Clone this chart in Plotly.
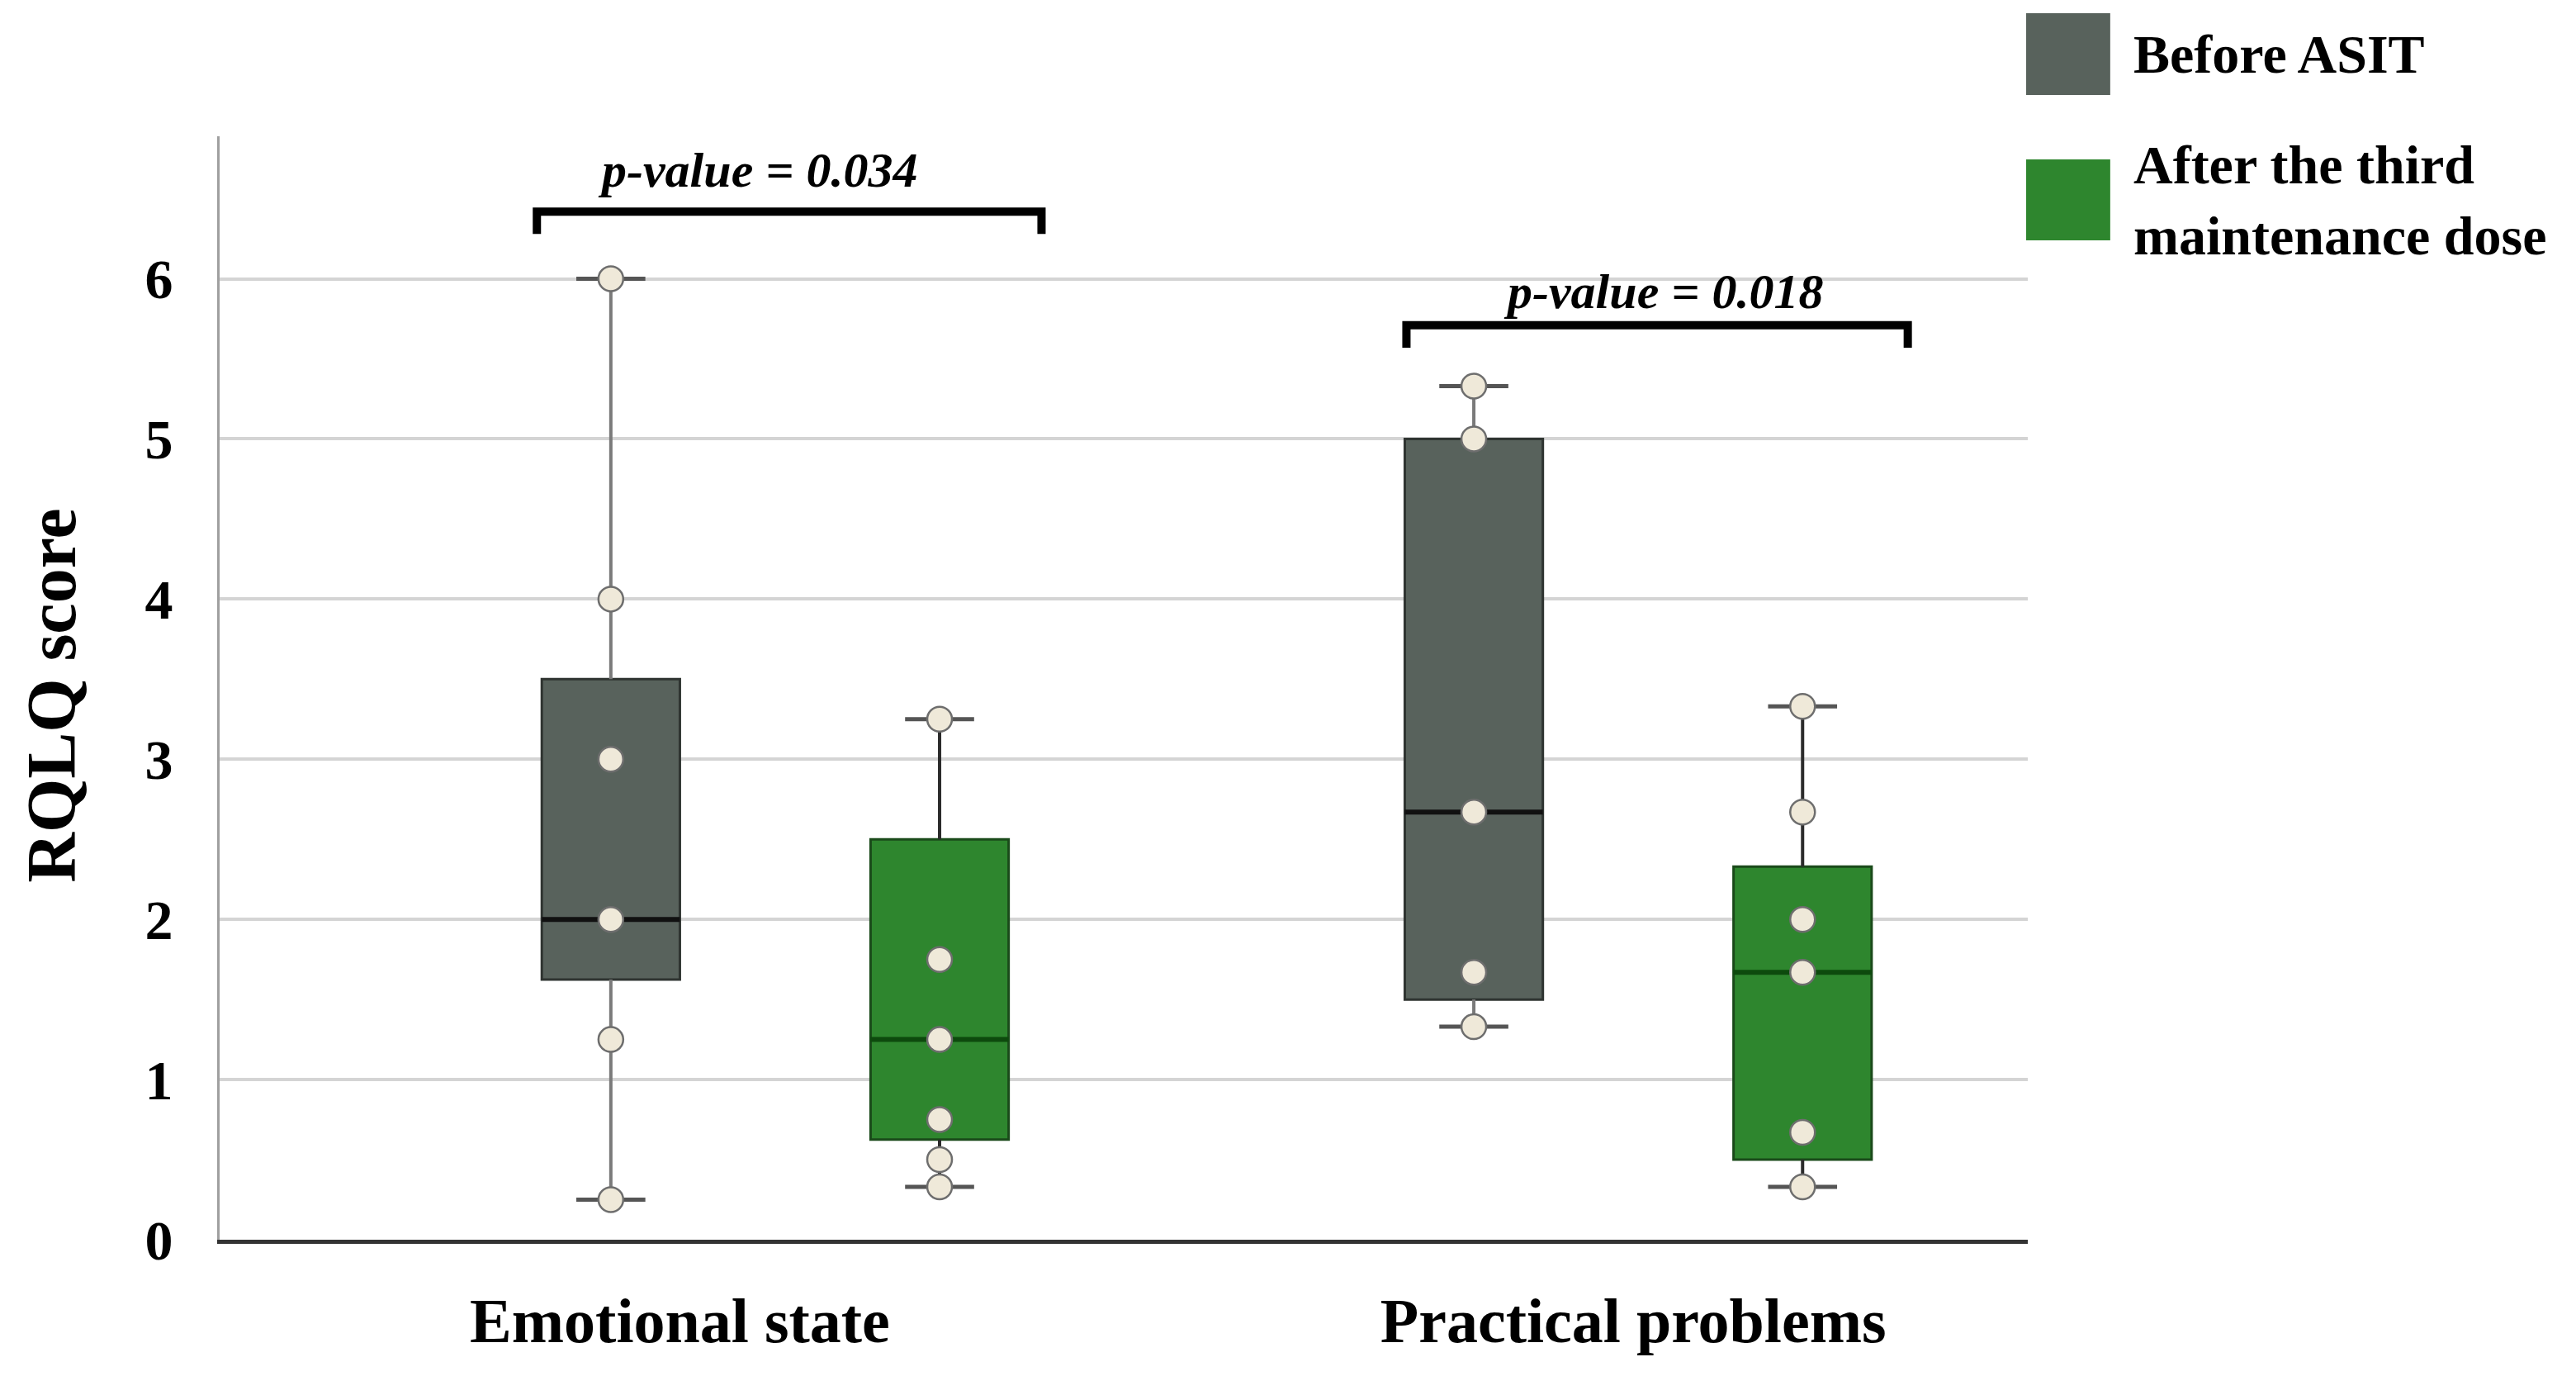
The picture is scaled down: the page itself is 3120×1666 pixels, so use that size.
import plotly.graph_objects as go

# data
categories = ["Emotional state", "Practical problems"]
group_names = ["Before ASIT", "After the third maintenance dose"]

before_q1 = [1.625, 1.5]
before_median = [2.0, 2.67]
before_q3 = [3.5, 5.0]
before_low = [0.25, 1.33]
before_high = [6.0, 5.33]

after_q1 = [0.625, 0.5]
after_median = [1.25, 1.67]
after_q3 = [2.5, 2.33]
after_low = [0.33, 0.33]
after_high = [3.25, 3.33]

before_points = [
    [6.0, 4.0, 3.0, 2.0, 1.25, 0.25],
    [5.33, 5.0, 2.67, 1.67, 1.33],
]
after_points = [
    [3.25, 1.75, 1.25, 0.75, 0.5, 0.33],
    [3.33, 2.67, 2.0, 1.67, 0.67, 0.33],
]

p_values = ["0.034", "0.018"]
y_ticks = [0, 1, 2, 3, 4, 5, 6]

# layout constants
FONT = "Liberation Serif, serif"
before_pos = [2.38, 7.63]
after_pos = [4.38, 9.63]
label_pos = [2.8, 8.6]
bracket_y = [6.42, 5.71]
bracket_x = [[1.93, 5.0], [7.22, 10.27]]
text_x = [3.27, 8.78]
text_y = [6.68, 5.92]
HALF = 0.42   # half box width
CAP = 0.21    # half whisker cap width

styles = {
    "before": dict(fill="#58625c", edge="#2f3431", median="#111111", whisker="#7a7a7a"),
    "after": dict(fill="#2e862e", edge="#1a4a1a", median="#0d4a0d", whisker="#2b2b2b"),
}

fig = go.Figure()


def add_group(pos, q1, med, q3, low, high, pts, st, name):
    # whiskers
    fig.add_trace(go.Scatter(x=[pos, pos, None, pos, pos], y=[low, q1, None, q3, high],
                             mode="lines", line=dict(color=st["whisker"], width=4),
                             showlegend=False, hoverinfo="skip"))
    fig.add_trace(go.Scatter(x=[pos - CAP, pos + CAP, None, pos - CAP, pos + CAP],
                             y=[low, low, None, high, high],
                             mode="lines", line=dict(color="#555555", width=5),
                             showlegend=False, hoverinfo="skip"))
    # box itself (whiskers hidden, drawn above)
    fig.add_trace(go.Box(x=[pos], q1=[q1], median=[med], q3=[q3],
                         lowerfence=[q1], upperfence=[q3],
                         width=2 * HALF, whiskerwidth=0, fillcolor=st["fill"],
                         line=dict(color=st["edge"], width=3), boxpoints=False,
                         showlegend=False, name=name))
    # thick median
    fig.add_trace(go.Scatter(x=[pos - HALF, pos + HALF], y=[med, med], mode="lines",
                             line=dict(color=st["median"], width=6),
                             showlegend=False, hoverinfo="skip"))
    fig.add_trace(go.Scatter(x=[pos] * len(pts), y=pts, mode="markers",
                             marker=dict(size=30, color="#efe9d9",
                                         line=dict(color="#6e6e6e", width=2.5)),
                             showlegend=False, hoverinfo="y"))


for i in range(len(categories)):
    add_group(before_pos[i], before_q1[i], before_median[i], before_q3[i],
              before_low[i], before_high[i], before_points[i], styles["before"], group_names[0])
    add_group(after_pos[i], after_q1[i], after_median[i], after_q3[i],
              after_low[i], after_high[i], after_points[i], styles["after"], group_names[1])

# significance brackets
for i in range(len(categories)):
    x0, x1 = bracket_x[i]
    y = bracket_y[i]
    fig.add_shape(type="path",
                  path=f"M {x0},{y - 0.14} L {x0},{y} L {x1},{y} L {x1},{y - 0.14}",
                  xref="x", yref="y", line=dict(color="black", width=10))
    fig.add_annotation(x=text_x[i], y=text_y[i], xref="x", yref="y",
                       text=f"<b><i>p-value = {p_values[i]}</i></b>", showarrow=False,
                       font=dict(family=FONT, size=60, color="black"))

# legend drawn by hand (filled squares)
legend_colors = [styles["before"]["fill"], styles["after"]["fill"]]
legend_y = [[1.0374, 1.1115], [0.9057, 0.9790]]
legend_text = ["Before ASIT", "After the third<br>maintenance dose"]
for i in range(2):
    fig.add_shape(type="rect", xref="paper", yref="paper",
                  x0=0.9991, x1=1.0456, y0=legend_y[i][0], y1=legend_y[i][1],
                  fillcolor=legend_colors[i], line=dict(width=0))
    fig.add_annotation(xref="paper", yref="paper", x=1.0575,
                       y=(legend_y[i][0] + legend_y[i][1]) / 2,
                       xanchor="left", yanchor="middle", align="left",
                       text=f"<b>{legend_text[i]}</b>", showarrow=False,
                       font=dict(family=FONT, size=66, color="black"))

fig.add_annotation(xref="paper", yref="paper", x=-0.093, y=0.493,
                   text="<b>RQLQ score</b>", textangle=-90, showarrow=False,
                   xanchor="center", yanchor="middle",
                   font=dict(family=FONT, size=84, color="black"))

fig.update_layout(
    width=3120, height=1666,
    margin=dict(l=258, r=672, t=157, b=173),
    plot_bgcolor="white", paper_bgcolor="white",
    boxmode="overlay",
    font=dict(family=FONT, color="black"),
    xaxis=dict(
        range=[0, 11], tickvals=label_pos,
        ticktext=[f"<b>{c}</b>" for c in categories],
        tickfont=dict(family=FONT, size=76, color="black"),
        showgrid=False, zeroline=False, showline=True,
        linecolor="#333333", linewidth=5, ticks="", ticklabelstandoff=28
    ),
    yaxis=dict(
        range=[0, 6.89], tickvals=y_ticks,
        ticktext=[f"<b>{v}</b>" for v in y_ticks],
        tickfont=dict(family=FONT, size=68, color="black"),
        showgrid=True, gridcolor="#d4d4d4", gridwidth=4,
        zeroline=False, showline=True, linecolor="#a0a0a0", linewidth=3,
        ticks="", ticklabelstandoff=40
    ),
)

fig.write_html("out.html")
